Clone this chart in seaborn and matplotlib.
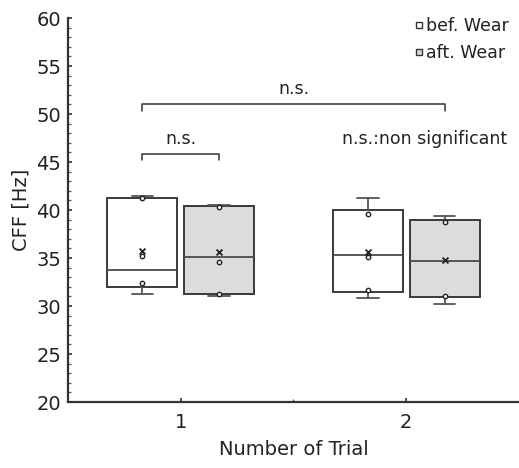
import numpy as np
import pandas as pd
import matplotlib
matplotlib.use("Agg")
import matplotlib.pyplot as plt
import seaborn as sns
from matplotlib.lines import Line2D
from matplotlib.ticker import MultipleLocator, FixedLocator

# ---- data ----
trials = ["1", "2"]
conditions = ["bef. Wear", "aft. Wear"]
whisker_low = [31.2, 31.0, 30.8, 30.2]
q1 = [32.0, 31.2, 31.5, 30.9]
median = [33.8, 35.1, 35.3, 34.7]
q3 = [41.3, 40.4, 40.0, 39.0]
whisker_high = [41.5, 40.5, 41.2, 39.4]
means = [35.7, 35.6, 35.6, 34.8]
points_bef1 = [41.2, 35.2, 32.4]
points_aft1 = [40.3, 34.6, 31.2]
points_bef2 = [39.6, 35.1, 31.7]
points_aft2 = [38.8, 31.0]
fills = ["#ffffff", "#dcdcdc"]

sns.set_theme(style="white")
plt.rcParams["font.family"] = ["DejaVu Sans"]

fig = plt.figure(figsize=(5.19, 4.68), dpi=100)
ax = fig.add_axes([0.131, 0.141, 0.869, 0.8205])

offsets = [-0.17, 0.17]
positions = []
stats = []
k = 0
for ti in range(len(trials)):
    for ci in range(len(conditions)):
        positions.append(ti + 1 + offsets[ci])
        stats.append(dict(whislo=whisker_low[k], q1=q1[k], med=median[k],
                          q3=q3[k], whishi=whisker_high[k], fliers=[]))
        k += 1

bp = ax.bxp(stats, positions=positions, widths=0.31, patch_artist=True,
            showfliers=False, manage_ticks=False,
            boxprops=dict(edgecolor="#3a3a3a", linewidth=1.4),
            medianprops=dict(color="#4a4a4a", linewidth=1.3),
            whiskerprops=dict(color="#555555", linewidth=1.3),
            capprops=dict(color="#555555", linewidth=1.3),
            capwidths=0.095)
for i, patch in enumerate(bp["boxes"]):
    patch.set_facecolor(fills[i % 2])

# raw points
all_points = [points_bef1, points_aft1, points_bef2, points_aft2]
px, py = [], []
for pos, pts in zip(positions, all_points):
    px += [pos] * len(pts)
    py += pts
df_pts = pd.DataFrame({"x": px, "y": py})
sns.scatterplot(data=df_pts, x="x", y="y", ax=ax, marker="o", s=10,
                facecolor="white", edgecolor="#222222", linewidth=1.0, zorder=5)
df_mean = pd.DataFrame({"x": positions, "y": means})
sns.scatterplot(data=df_mean, x="x", y="y", ax=ax, marker="x", s=18,
                color="#222222", linewidth=1.3, zorder=6)

ax.set_xlim(0.5, 2.5)
ax.set_ylim(20, 60)
ax.yaxis.set_major_locator(MultipleLocator(5))
ax.yaxis.set_minor_locator(MultipleLocator(1))
ax.set_xticks([1, 2])
ax.set_xticklabels(trials)
ax.xaxis.set_minor_locator(FixedLocator([1.5]))
ax.tick_params(axis="both", which="major", direction="in", length=3,
               width=1.2, color="#333333", labelsize=14, labelcolor="#222222", pad=5)
ax.tick_params(axis="both", which="minor", direction="in", length=2,
               width=0.9, color="#555555")
ax.tick_params(axis="x", which="major", pad=8)
ax.tick_params(left=True, bottom=True, which="both")

for s in ["top", "right"]:
    ax.spines[s].set_visible(False)
for s in ["left", "bottom"]:
    ax.spines[s].set_color("#333333")
    ax.spines[s].set_linewidth(1.6)

ax.set_xlabel("Number of Trial", fontsize=14, color="#222222", labelpad=6)
ax.set_ylabel("CFF [Hz]", fontsize=14, color="#222222", labelpad=4)

# significance brackets
def bracket(x0, x1, y, h, text, ty):
    ax.plot([x0, x0, x1, x1], [y - h, y, y, y - h], color="#333333", lw=1.1)
    ax.text((x0 + x1) / 2, ty, text, ha="center", va="center",
            fontsize=12.5, color="#222222")

bracket(positions[0], positions[3], 51.0, 0.65, "n.s.", 52.6)
bracket(positions[0], positions[1], 45.8, 0.55, "n.s.", 47.4)
ax.text(2.08, 47.4, "n.s.:non significant", ha="center", va="center",
        fontsize=12.5, color="#222222")

handles = [Line2D([0], [0], marker="s", linestyle="none", markersize=5,
                  markerfacecolor=fills[i], markeredgecolor="#333333",
                  markeredgewidth=1.0, label=conditions[i]) for i in range(2)]
leg = ax.legend(handles=handles, loc="upper right", bbox_to_anchor=(1.0, 1.03),
                frameon=False, fontsize=12.5, handlelength=0.6,
                handletextpad=0.1, labelspacing=0.55, borderaxespad=0.2)
for t in leg.get_texts():
    t.set_color("#222222")

fig.savefig("out.png", dpi=100)
